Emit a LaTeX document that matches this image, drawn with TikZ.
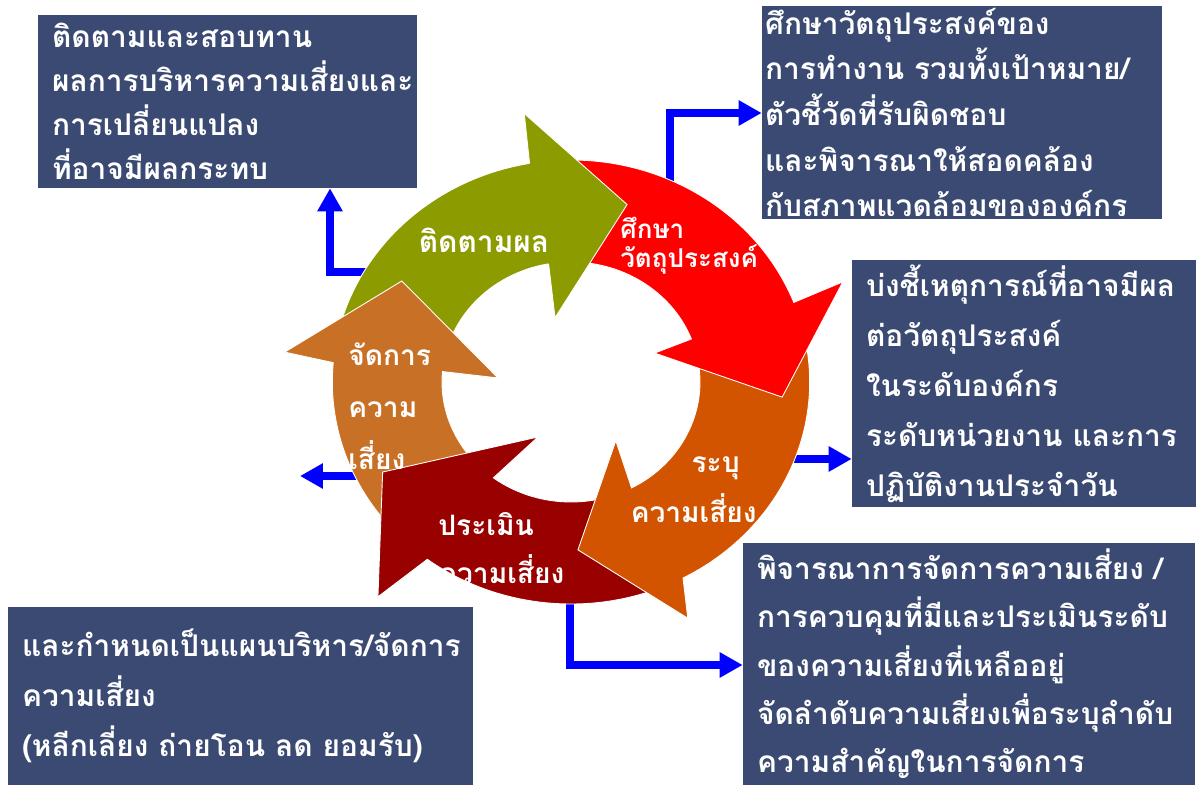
\documentclass[tikz,border=0pt]{standalone}
\usepackage{fontspec}
\newfontfamily\thaifont[Script=Thai]{Loma}
\newcommand{\thaibold}{\thaifont\bfseries}
\usetikzlibrary{arrows.meta}
\definecolor{boxblue}{RGB}{59,74,115}
\definecolor{olivearr}{RGB}{140,156,0}
\definecolor{redarr}{RGB}{255,0,0}
\definecolor{orangearr}{RGB}{211,84,0}
\definecolor{darkredarr}{RGB}{153,0,0}
\definecolor{brownarr}{RGB}{200,113,38}
\definecolor{linkblue}{RGB}{0,0,255}

\begin{document}
\begin{tikzpicture}[x=0.02cm, y=-0.02cm,
    infobox/.style={fill=boxblue, text=white, align=left,
        inner xsep=0.28cm, inner ysep=0pt,
        font=\thaibold\fontsize{17}{28.5}\selectfont},
    ringlabel/.style={text=white, inner sep=0pt,
        font=\thaibold\fontsize{16}{28}\selectfont},
    ringpart/.style={draw=white, line width=0.5pt},
    flow/.style={draw=linkblue, line width=0.16cm,
        -{Triangle[length=0.46cm,width=0.48cm]}}]

    \useasboundingbox (0,0) rectangle (1198,787);

    % text boxes (placed at their centres)
    \node[infobox, text width=7.02cm, minimum height=3.46cm,
        font=\thaibold\fontsize{17}{25}\selectfont] (box1) at (227.5,101.5)
        {ติดตามและสอบทาน\\ผลการบริหารความเสี่ยงและ\\การเปลี่ยนแปลง\\ที่อาจมีผลกระทบ};
    \node[infobox, inner xsep=0.06cm, text width=7.88cm, minimum height=4.26cm,
        font=\thaibold\fontsize{17}{26}\selectfont] (box2) at (962,112.5)
        {ศึกษาวัตถุประสงค์ของ\\การทำงาน รวมทั้งเป้าหมาย/\\ตัวชี้วัดที่รับผิดชอบ\\และพิจารณาให้สอดคล้อง\\กับสภาพแวดล้อมขององค์กร};
    \node[infobox, text width=6.32cm, minimum height=4.94cm] (box3) at (1024,383.5)
        {บ่งชี้เหตุการณ์ที่อาจมีผล\\ต่อวัตถุประสงค์\\ในระดับองค์กร\\ระดับหน่วยงาน และการ\\ปฏิบัติงานประจำวัน};
    \node[infobox, text width=8.48cm, minimum height=4.84cm,
        font=\thaibold\fontsize{17}{27.5}\selectfont] (box4) at (969,664)
        {พิจารณาการจัดการความเสี่ยง /\\การควบคุมที่มีและประเมินระดับ\\ของความเสี่ยงที่เหลืออยู่\\จัดลำดับความเสี่ยงเพื่อระบุลำดับ\\ความสำคัญในการจัดการ};
    \node[infobox, text width=8.74cm, minimum height=3.56cm] (box5) at (240.5,696)
        {และกำหนดเป็นแผนบริหาร/จัดการ\\ความเสี่ยง\\(หลีกเลี่ยง ถ่ายโอน ลด ยอมรับ)};

    % blue links (start under the ring)
    \coordinate (s1) at (380,272);
    \coordinate (k1) at (330,272);
    \draw[flow] (s1) -- (k1) -- (k1 |- box1.south);
    \coordinate (s2) at (670,200);
    \coordinate (k2) at (670,113);
    \draw[flow] (s2) -- (k2) -- (k2 -| box2.west);
    \coordinate (s3) at (790,459);
    \draw[flow] (s3) -- (s3 -| box3.west);
    \coordinate (s4) at (370,476);
    \coordinate (e4) at (300,476);
    \draw[flow] (s4) -- (e4);
    \coordinate (s5) at (570,590);
    \coordinate (k5) at (570,665);
    \draw[flow] (s5) -- (k5) -- (k5 -| box4.west);

    % the cycle: five ring arrows, angles in degrees, radii in px
    \begin{scope}[shift={(571,382)}, xscale=1.075, yscale=-1]
    % monitor (olive)
    \path[ringpart, fill=olivearr] (168:222) arc[start angle=168, end angle=100, radius=222]
        -- (99.2:272) -- (73.6:185) -- (103:66) -- (100:120)
        arc[start angle=100, end angle=168, radius=120] -- cycle;
    % manage (brown)
    \path[ringpart, fill=brownarr] (224:222) arc[start angle=224, end angle=175, radius=222]
        -- (173.6:268) -- (147.3:187) -- (176.6:68) -- (175:120)
        arc[start angle=175, end angle=224, radius=120] -- cycle;
    % assess (dark red)
    \path[ringpart, fill=darkredarr] (291:222) arc[start angle=291, end angle=233, radius=222]
        -- (230.1:280) -- (207.2:197) -- (240.8:63) -- (233:120)
        arc[start angle=233, end angle=291, radius=120] -- cycle;
    % identify (orange)
    \path[ringpart, fill=orangearr] (14:222) arc[start angle=14, end angle=-62, radius=222]
        -- (-65.3:260) -- (-87.8:168) -- (-54.6:72) -- (-62:120)
        arc[start angle=-62, end angle=14, radius=120] -- cycle;
    % objectives (red)
    \path[ringpart, fill=redarr] (92:222) arc[start angle=92, end angle=21, radius=222]
        -- (21.6:272) -- (-4.4:197) -- (20.4:83) -- (21:120)
        arc[start angle=21, end angle=92, radius=120] -- cycle;
    % olive head again, on top of the red tail
    \fill[olivearr] (100:222) -- (99.2:272) -- (73.6:185) -- (103:66) -- (100:120) -- cycle;
    \draw[white, line width=0.5pt] (100:222) -- (99.2:272) -- (73.6:185) -- (103:66) -- (100:120);
    \end{scope}

    % labels on the ring (base = baseline of the last line)
    \node[ringlabel, anchor=base, font=\thaibold\fontsize{17}{28}\selectfont] (lbl1) at (484,253) {ติดตามผล};
    \node[ringlabel, anchor=base west, align=left, font=\thaibold\fontsize{14.8}{17}\selectfont]
        (lbl2) at (620,268) {ศึกษา\\วัตถุประสงค์};
    \node[ringlabel, anchor=base east, align=right] (lbl3) at (757,522)
        {ระบุ\hspace*{0.34cm}\\ความเสี่ยง};
    \node[ringlabel, anchor=base west, align=left, font=\thaibold\fontsize{16}{27}\selectfont]
        (lbl4) at (438,583) {ประเมิน\\ความเสี่ยง};
    \node[ringlabel, anchor=base west, align=left, font=\thaibold\fontsize{16}{29.6}\selectfont]
        (lbl5) at (348,470) {จัดการ\\ความ\\เสี่ยง};

\end{tikzpicture}
\end{document}
